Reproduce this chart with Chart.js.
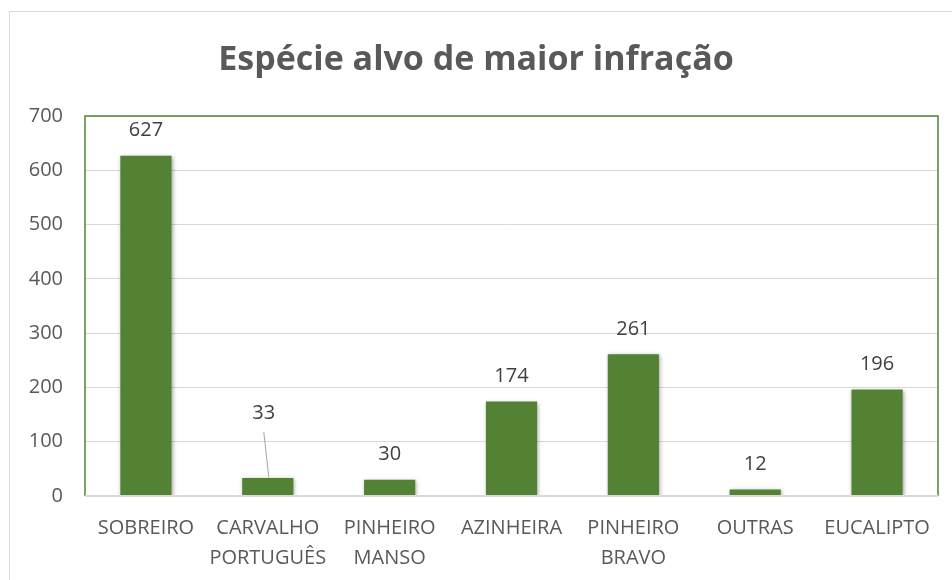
<!DOCTYPE html>
<html>
<head>
<meta charset="utf-8">
<script src="https://cdn.jsdelivr.net/npm/chart.js@4/dist/chart.umd.min.js"></script>
<style>
html,body{margin:0;padding:0;background:#fff;}
#wrap{width:952px;height:580px;position:relative;}
</style>
</head>
<body>
<div id="wrap"><canvas id="c" width="952" height="580"></canvas></div>
<script>
const titleText = 'Espécie alvo de maior infração';
const categories = [['SOBREIRO'], ['CARVALHO', 'PORTUGUÊS'], ['PINHEIRO', 'MANSO'], ['AZINHEIRA'], ['PINHEIRO', 'BRAVO'], ['OUTRAS'], ['EUCALIPTO']];
const values = [627, 33, 30, 174, 261, 12, 196];
const yTicks = [0, 100, 200, 300, 400, 500, 600, 700];

const FONT = '"Open Sans", "Noto Sans", sans-serif';
const GREEN = '#548235';

const decor = {
  id: 'decor',
  beforeDraw(chart) {
    const ctx = chart.ctx;
    ctx.save();
    ctx.fillStyle = '#fff';
    ctx.fillRect(0, 0, chart.width, chart.height);
    ctx.strokeStyle = '#d9d9d9';
    ctx.lineWidth = 1;
    ctx.strokeRect(9.5, 11.5, 960, 600);
    ctx.fillStyle = '#595959';
    ctx.font = 'bold 34px ' + FONT;
    ctx.textAlign = 'center';
    ctx.textBaseline = 'middle';
    ctx.fillText(titleText, 476, 60);
    ctx.restore();
  },
  beforeDatasetsDraw(chart) {
    const ctx = chart.ctx;
    ctx.save();
    ctx.shadowColor = 'rgba(0,0,0,0.35)';
    ctx.shadowBlur = 4;
    ctx.shadowOffsetX = 1;
    ctx.shadowOffsetY = 1;
  },
  afterDatasetsDraw(chart) {
    const ctx = chart.ctx;
    ctx.restore();
    const a = chart.chartArea;
    ctx.save();
    ctx.strokeStyle = GREEN;
    ctx.lineWidth = 1.5;
    ctx.beginPath();
    ctx.moveTo(a.left, a.bottom);
    ctx.lineTo(a.left, a.top);
    ctx.lineTo(a.right, a.top);
    ctx.lineTo(a.right, a.bottom);
    ctx.stroke();
    ctx.strokeStyle = '#d9d9d9';
    ctx.lineWidth = 2;
    ctx.beginPath();
    ctx.moveTo(a.left, a.bottom);
    ctx.lineTo(a.right, a.bottom);
    ctx.stroke();
    const meta = chart.getDatasetMeta(0);
    ctx.fillStyle = '#404040';
    ctx.font = '20px ' + FONT;
    ctx.textAlign = 'center';
    ctx.textBaseline = 'middle';
    meta.data.forEach((bar, i) => {
      const v = chart.data.datasets[0].data[i];
      if (i === 1) {
        const lx = bar.x - 4, ly = bar.y - 65;
        ctx.fillText(String(v), lx, ly);
        ctx.strokeStyle = '#a6a6a6';
        ctx.lineWidth = 1;
        ctx.beginPath();
        ctx.moveTo(lx, ly + 19);
        ctx.lineTo(bar.x + 1, bar.y - 1);
        ctx.stroke();
      } else {
        ctx.fillText(String(v), bar.x, bar.y - 25);
      }
    });
    ctx.restore();
  }
};

new Chart(document.getElementById('c'), {
  type: 'bar',
  data: {
    labels: categories,
    datasets: [{
      data: values,
      backgroundColor: GREEN,
      borderWidth: 0,
      barPercentage: 0.42,
      categoryPercentage: 1
    }]
  },
  options: {
    responsive: false,
    animation: false,
    devicePixelRatio: 1,
    layout: { padding: { top: 116, right: 14, left: 0, bottom: 0 } },
    plugins: { legend: { display: false }, tooltip: { enabled: false }, title: { display: false } },
    scales: {
      x: {
        grid: { display: false, drawTicks: false },
        border: { display: false },
        ticks: {
          color: '#595959',
          font: { family: FONT, size: 20, lineHeight: 1.5 },
          padding: 17,
          maxRotation: 0,
          autoSkip: false
        },
        afterFit(s) { s.height = 84; }
      },
      y: {
        min: 0,
        max: 700,
        afterBuildTicks(s) { s.ticks = yTicks.map(v => ({ value: v })); },
        grid: { color: '#d9d9d9', lineWidth: 1, drawTicks: false },
        border: { display: false },
        ticks: {
          color: '#595959',
          font: { family: FONT, size: 20 },
          padding: 22
        },
        afterFit(s) { s.width = 85; }
      }
    }
  },
  plugins: [decor]
});
</script>
</body>
</html>
